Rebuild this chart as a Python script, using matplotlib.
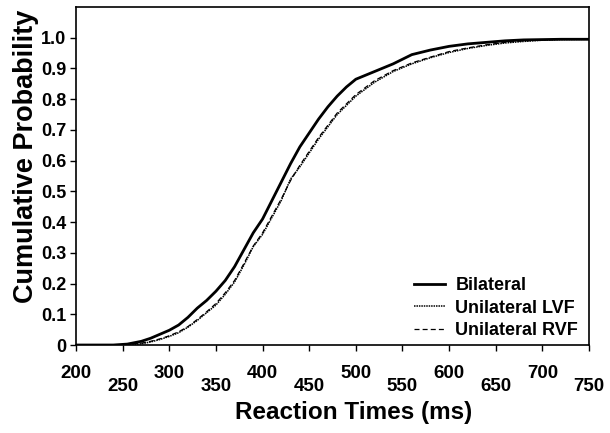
import matplotlib
matplotlib.use("Agg")
import matplotlib.pyplot as plt
from matplotlib.ticker import FixedLocator

plt.rcParams['font.family'] = ['Liberation Sans', 'DejaVu Sans']

# reaction times (ms) and cumulative probabilities
rt = [200, 240, 255, 270, 280, 290, 300, 310, 320, 330, 340, 350, 360, 370,
      380, 390, 400, 410, 420, 430, 440, 450, 460, 470, 480, 490, 500, 520,
      540, 560, 580, 600, 620, 640, 660, 680, 700, 720, 750]
bilateral = [0, 0, 0.003, 0.012, 0.022, 0.035, 0.048, 0.065, 0.09, 0.12, 0.145,
             0.175, 0.21, 0.255, 0.31, 0.365, 0.41, 0.47, 0.53, 0.59, 0.645,
             0.69, 0.735, 0.775, 0.81, 0.84, 0.865, 0.89, 0.915, 0.945, 0.96,
             0.972, 0.98, 0.985, 0.99, 0.993, 0.994, 0.995, 0.995]
lvf = [0, 0, 0, 0.004, 0.01, 0.018, 0.028, 0.04, 0.058, 0.08, 0.105, 0.13,
       0.165, 0.205, 0.26, 0.32, 0.36, 0.415, 0.47, 0.54, 0.58, 0.625, 0.67,
       0.71, 0.75, 0.78, 0.81, 0.855, 0.89, 0.915, 0.935, 0.952, 0.965, 0.975,
       0.983, 0.988, 0.992, 0.994, 0.995]
rvf = [0, 0, 0.002, 0.006, 0.012, 0.02, 0.03, 0.043, 0.06, 0.083, 0.108, 0.135,
       0.17, 0.21, 0.265, 0.322, 0.365, 0.42, 0.475, 0.535, 0.585, 0.63, 0.675,
       0.715, 0.755, 0.785, 0.815, 0.86, 0.893, 0.918, 0.937, 0.955, 0.967,
       0.977, 0.985, 0.99, 0.993, 0.995, 0.995]

upper_ticks = [200, 300, 400, 500, 600, 700]
lower_ticks = [250, 350, 450, 550, 650, 750]
y_ticks = [0, 0.1, 0.2, 0.3, 0.4, 0.5, 0.6, 0.7, 0.8, 0.9, 1.0]
y_labels = ['0', '0.1', '0.2', '0.3', '0.4', '0.5', '0.6', '0.7', '0.8', '0.9', '1.0']

fig = plt.figure(figsize=(6.1, 4.33), dpi=100)
ax = fig.add_axes([0.1246, 0.2032, 0.841, 0.7806])

ax.plot(rt, bilateral, color='black', lw=2.0, label='Bilateral')
ax.plot(rt, lvf, color='black', lw=1.1, ls=(0, (1, 0.6)), label='Unilateral LVF')
ax.plot(rt, rvf, color='black', lw=0.9, ls=(0, (4, 2.5)), label='Unilateral RVF')

ax.set_xlim(200, 750)
ax.set_ylim(0, 1.1)

# staggered x labels: hundreds on the first row, fifties on the second
ax.xaxis.set_major_locator(FixedLocator(upper_ticks))
ax.xaxis.set_minor_locator(FixedLocator(lower_ticks))
ax.set_xticklabels([str(t) for t in upper_ticks], fontweight='bold')
ax.set_xticklabels([str(t) for t in lower_ticks], minor=True, fontweight='bold')
ax.tick_params(axis='x', which='major', length=4, width=1, pad=10.5, labelsize=13.5)
ax.tick_params(axis='x', which='minor', length=4, width=1, pad=20, labelsize=13.5)

ax.set_yticks(y_ticks)
ax.set_yticklabels(y_labels, fontweight='bold')
ax.tick_params(axis='y', length=4, width=1, pad=3, labelsize=13)

for s in ax.spines.values():
    s.set_linewidth(1.2)

ax.set_xlabel('Reaction Times (ms)', fontsize=17.5, fontweight='bold')
ax.set_ylabel('Cumulative Probability', fontsize=19.5, fontweight='bold')
ax.xaxis.set_label_coords(0.541, -0.166)
ax.yaxis.set_label_coords(-0.072, 0.559)

ax.legend(loc='lower right', bbox_to_anchor=(0.993, -0.004), frameon=False,
          prop={'size': 13, 'weight': 'bold'}, handlelength=1.7,
          handletextpad=0.6, labelspacing=0.3, borderaxespad=0.0)

fig.savefig('out.png', dpi=100)
